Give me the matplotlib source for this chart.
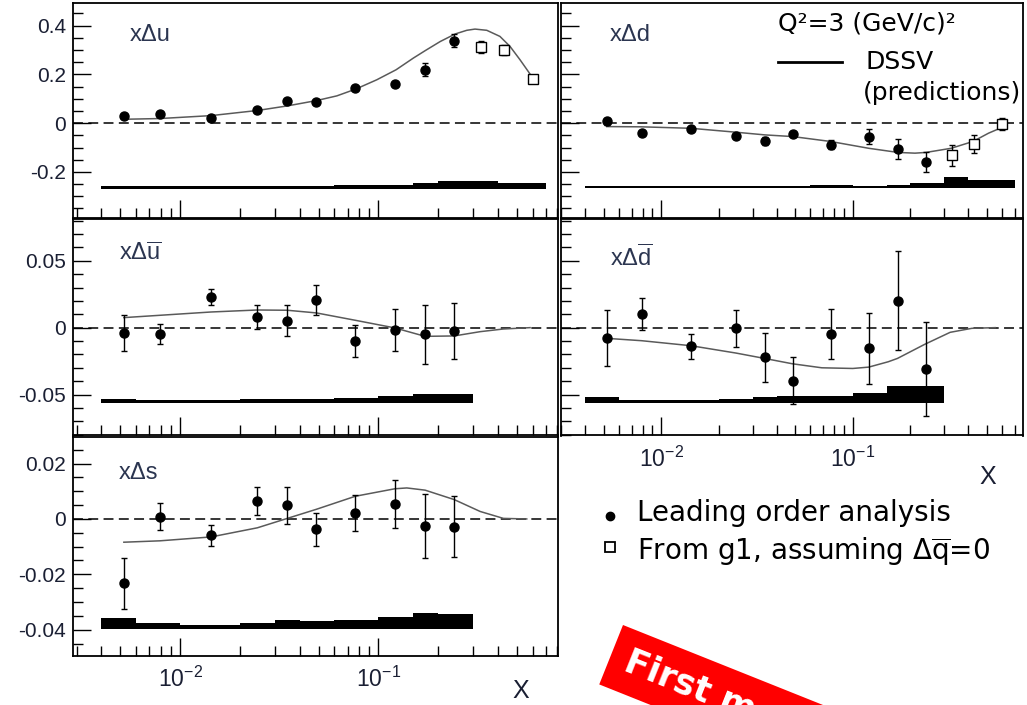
import numpy as np
import matplotlib
matplotlib.use("Agg")
import matplotlib.pyplot as plt
from matplotlib.ticker import LogLocator, NullFormatter, FixedLocator, FixedFormatter, MultipleLocator
from matplotlib.patches import Polygon

plt.rcParams['font.family'] = ['Liberation Sans', 'DejaVu Sans']
plt.rcParams['mathtext.fontset'] = 'custom'
plt.rcParams['mathtext.rm'] = 'Liberation Sans'
plt.rcParams['mathtext.it'] = 'Liberation Sans'
plt.rcParams['axes.unicode_minus'] = False

# x bins (leading order) and g1 points
x_lo = [0.0052, 0.0079, 0.0143, 0.0245, 0.0347, 0.0487, 0.0765, 0.121, 0.172, 0.241]
x_g1 = [0.33, 0.43, 0.60]
sys_edges = [0.004, 0.006, 0.01, 0.02, 0.03, 0.04, 0.06, 0.1, 0.15, 0.2, 0.3]
sys_edges_g1 = [0.004, 0.006, 0.01, 0.02, 0.03, 0.04, 0.06, 0.1, 0.15, 0.2, 0.3, 0.4, 0.5, 0.7]

# x delta u
du_val = [0.030, 0.038, 0.023, 0.053, 0.090, 0.085, 0.144, 0.160, 0.219, 0.338]
du_err = [0.005, 0.005, 0.005, 0.005, 0.006, 0.006, 0.007, 0.008, 0.026, 0.027]
du_g1_val = [0.312, 0.301, 0.181]
du_g1_err = [0.024, 0.020, 0.007]
du_sys = [0.011, 0.011, 0.011, 0.011, 0.011, 0.011, 0.015, 0.015, 0.0235, 0.030, 0.030, 0.0246, 0.0246]
du_curve_x = [0.0052, 0.0079, 0.0143, 0.0245, 0.0348, 0.0489, 0.0617, 0.0769, 0.0981, 0.1227, 0.150,
              0.1725, 0.205, 0.244, 0.279, 0.307, 0.352, 0.410, 0.461, 0.518, 0.570, 0.605]
du_curve_y = [0.016, 0.019, 0.031, 0.052, 0.071, 0.093, 0.112, 0.140, 0.178, 0.219, 0.267,
              0.298, 0.335, 0.366, 0.381, 0.386, 0.381, 0.356, 0.315, 0.260, 0.212, 0.181]

# x delta d
dd_val = [0.007, -0.041, -0.025, -0.052, -0.073, -0.045, -0.089, -0.055, -0.107, -0.160]
dd_err = [0.016, 0.006, 0.006, 0.007, 0.018, 0.008, 0.018, 0.030, 0.041, 0.042]
dd_g1_val = [-0.131, -0.085, -0.004]
dd_g1_err = [0.043, 0.037, 0.025]
dd_sys = [0.009, 0.009, 0.009, 0.009, 0.009, 0.009, 0.0137, 0.009, 0.0137, 0.0205, 0.044, 0.031, 0.031]
dd_curve_x = [0.0052, 0.0079, 0.0143, 0.0245, 0.0347, 0.0487, 0.0765, 0.121, 0.172, 0.211, 0.241,
              0.326, 0.424, 0.511, 0.598]
dd_curve_y = [-0.014, -0.015, -0.021, -0.037, -0.048, -0.055, -0.075, -0.103, -0.120, -0.123, -0.120,
              -0.103, -0.075, -0.041, -0.018]

# x delta ubar
ub_val = [-0.004, -0.0045, 0.0232, 0.008, 0.005, 0.0205, -0.0102, -0.0017, -0.005, -0.0025]
ub_err = [0.0133, 0.0075, 0.006, 0.009, 0.0116, 0.0112, 0.012, 0.0156, 0.022, 0.021]
ub_sys = [0.0035, 0.0022, 0.0022, 0.0032, 0.0032, 0.0032, 0.0042, 0.0052, 0.007, 0.007]
ub_curve_x = [0.0052, 0.0143, 0.0245, 0.0347, 0.0487, 0.0765, 0.121, 0.172, 0.241, 0.326, 0.427, 0.582]
ub_curve_y = [0.0075, 0.0117, 0.0132, 0.013, 0.011, 0.0055, -0.0002, -0.0065, -0.0062, -0.003, -0.001, 0.0]

# x delta dbar
db_val = [-0.008, 0.010, -0.0138, -0.0005, -0.0222, -0.0395, -0.0048, -0.0155, 0.020, -0.031]
db_err = [0.021, 0.0118, 0.0094, 0.014, 0.0185, 0.0176, 0.0188, 0.0266, 0.037, 0.035]
db_sys = [0.0043, 0.0025, 0.0025, 0.0033, 0.0043, 0.005, 0.005, 0.0075, 0.0125, 0.0125]
db_curve_x = [0.0052, 0.0079, 0.0143, 0.0246, 0.0346, 0.0484, 0.0689, 0.1, 0.121, 0.153, 0.171,
              0.237, 0.322, 0.418, 0.553]
db_curve_y = [-0.008, -0.00975, -0.0135, -0.019, -0.023, -0.027, -0.030, -0.0305, -0.0295, -0.0255, -0.023,
              -0.0125, -0.0035, -0.0005, 0.0]

# x delta s
s_val = [-0.0233, 0.00085, -0.0059, 0.0066, 0.0049, -0.0038, 0.0021, 0.0055, -0.0026, -0.0028]
s_err = [0.0093, 0.0048, 0.0037, 0.005, 0.0066, 0.0061, 0.0065, 0.0086, 0.0116, 0.011]
s_sys = [0.0043, 0.0023, 0.0017, 0.0024, 0.0033, 0.0029, 0.0033, 0.0045, 0.006, 0.0055]
s_curve_x = [0.0052, 0.0079, 0.0143, 0.0245, 0.0347, 0.0487, 0.0765, 0.121, 0.139, 0.172, 0.241,
             0.326, 0.427, 0.56]
s_curve_y = [-0.0084, -0.0079, -0.0065, -0.0032, 0.0002, 0.0035, 0.0082, 0.0109, 0.0112, 0.0104, 0.007,
             0.0027, 0.0002, 0.0]

W, H = 1027, 705
TICK_COLOR = '#1a1f33'
LABEL_COLOR = '#2b3550'
CURVE_COLOR = '#5a5a5a'


def rect(x0, y0, x1, y1):
    # pixel box -> figure fraction
    return [x0 / W, 1 - y1 / H, (x1 - x0) / W, (y1 - y0) / H]


def make_panel(fig, box, xlim, ylim, yticks, yticklabels, yminor, show_ylabels, show_xlabels):
    ax = fig.add_axes(rect(*box))
    ax.set_xscale('log')
    ax.set_xlim(*xlim)
    ax.set_ylim(*ylim)
    ax.xaxis.set_major_locator(LogLocator(base=10))
    ax.xaxis.set_minor_locator(LogLocator(base=10, subs=np.arange(2, 10)))
    ax.xaxis.set_minor_formatter(NullFormatter())
    ax.yaxis.set_major_locator(FixedLocator(yticks))
    ax.yaxis.set_minor_locator(MultipleLocator(yminor))
    if show_ylabels:
        ax.yaxis.set_major_formatter(FixedFormatter(yticklabels))
    else:
        ax.set_yticklabels([])
    if not show_xlabels:
        ax.set_xticklabels([])
    ax.tick_params(which='both', direction='in', top=False, right=False, colors='black')
    ax.tick_params(which='major', length=13, width=1)
    ax.tick_params(which='minor', length=7, width=1)
    ax.tick_params(axis='y', labelsize=15, pad=5, labelcolor=TICK_COLOR)
    ax.tick_params(axis='x', labelsize=16.5, pad=8, labelcolor=TICK_COLOR)
    for sp in ax.spines.values():
        sp.set_linewidth(1.3)
    ax.axhline(0, color='black', lw=1.1, ls=(0, (6.5, 3.5)), zorder=1)
    return ax


def draw_data(ax, x, val, err, curve_x, curve_y, edges, sys, sys_base, g1=None):
    edges = np.array(edges)
    ax.bar(edges[:-1], sys, width=np.diff(edges), bottom=sys_base, align='edge',
           color='black', linewidth=0, zorder=2)
    ax.plot(curve_x, curve_y, color=CURVE_COLOR, lw=1.1, zorder=3)
    ax.errorbar(x, val, yerr=err, fmt='o', color='black', ms=6.5, elinewidth=1,
                capsize=2.5, capthick=1, zorder=4)
    if g1 is not None:
        ax.errorbar(x_g1, g1[0], yerr=g1[1], fmt='s', color='black', mfc='white', mec='black',
                    ms=7, mew=1, elinewidth=1, capsize=2.5, capthick=1, zorder=4)


fig = plt.figure(figsize=(W / 100, H / 100), dpi=100)

xl_left = (0.00288, 0.805)
xl_right = (0.0030, 0.773)
yl_top = (-0.389, 0.493)
yl_mid = (-0.0806, 0.0812)
yl_bot = (-0.0495, 0.0296)
top_ticks, top_labels = [-0.2, 0, 0.2, 0.4], ['-0.2', '0', '0.2', '0.4']
mid_ticks, mid_labels = [-0.05, 0, 0.05], ['-0.05', '0', '0.05']
bot_ticks, bot_labels = [-0.04, -0.02, 0, 0.02], ['-0.04', '-0.02', '0', '0.02']

ax_u = make_panel(fig, (73, 3, 558, 218), xl_left, yl_top, top_ticks, top_labels, 0.05, True, False)
draw_data(ax_u, x_lo, du_val, du_err, du_curve_x, du_curve_y, sys_edges_g1, du_sys, -0.268,
          g1=(du_g1_val, du_g1_err))
ax_u.text(0.118, 0.85, 'xΔu', transform=ax_u.transAxes, fontsize=17, color=LABEL_COLOR, va='center')

ax_d = make_panel(fig, (561, 3, 1023, 218), xl_right, yl_top, top_ticks, top_labels, 0.05, False, False)
draw_data(ax_d, x_lo, dd_val, dd_err, dd_curve_x, dd_curve_y, sys_edges_g1, dd_sys, -0.266,
          g1=(dd_g1_val, dd_g1_err))
ax_d.text(0.106, 0.85, 'xΔd', transform=ax_d.transAxes, fontsize=17, color=LABEL_COLOR, va='center')

ax_ub = make_panel(fig, (73, 219, 558, 435.5), xl_left, yl_mid, mid_ticks, mid_labels, 0.01, True, False)
draw_data(ax_ub, x_lo, ub_val, ub_err, ub_curve_x, ub_curve_y, sys_edges, ub_sys, -0.0565)
ax_ub.text(0.095, 0.84, r'x$\Delta\overline{\mathrm{u}}$', transform=ax_ub.transAxes, fontsize=17,
           color=LABEL_COLOR, va='center')

ax_db = make_panel(fig, (561, 219, 1023, 435.5), xl_right, yl_mid, mid_ticks, mid_labels, 0.01, False, True)
draw_data(ax_db, x_lo, db_val, db_err, db_curve_x, db_curve_y, sys_edges, db_sys, -0.0563)
ax_db.text(0.106, 0.82, r'x$\Delta\overline{\mathrm{d}}$', transform=ax_db.transAxes, fontsize=17,
           color=LABEL_COLOR, va='center')
ax_db.set_xlabel('X', fontsize=18, color=TICK_COLOR)
ax_db.xaxis.set_label_coords(0.924, -0.135)

ax_s = make_panel(fig, (73, 437, 558, 656), xl_left, yl_bot, bot_ticks, bot_labels, 0.005, True, True)
draw_data(ax_s, x_lo, s_val, s_err, s_curve_x, s_curve_y, sys_edges, s_sys, -0.0399)
ax_s.text(0.095, 0.835, 'xΔs', transform=ax_s.transAxes, fontsize=17, color=LABEL_COLOR, va='center')
ax_s.set_xlabel('X', fontsize=18, color=TICK_COLOR)
ax_s.xaxis.set_label_coords(0.924, -0.105)

# overlay in pixel coordinates for legends and the banner
ov = fig.add_axes([0, 0, 1, 1], facecolor='none')
ov.set_xlim(0, W)
ov.set_ylim(H, 0)
ov.axis('off')

ov.text(778, 23, 'Q²=3 (GeV/c)²', fontsize=18, family='DejaVu Sans', va='center', ha='left')
ov.plot([778, 842], [62, 62], color='black', lw=2)
ov.text(865, 62, 'DSSV', fontsize=18, family='DejaVu Sans', va='center', ha='left')
ov.text(863, 93, '(predictions)', fontsize=18, family='DejaVu Sans', va='center', ha='left')

ov.plot([610], [516], 'o', color='black', ms=6)
ov.text(637, 513, 'Leading order analysis', fontsize=20, family='DejaVu Sans', va='center', ha='left')
ov.plot([610], [547], 's', mfc='white', mec='black', ms=7.5, mew=1.3)
ov.text(637, 552, r'From g1, assuming $\Delta\overline{\mathrm{q}}$=0', fontsize=20, family='DejaVu Sans',
        math_fontfamily='dejavusans', va='center', ha='left')

# red "First measurement" banner, cut by the lower edge as in the slide
ang = np.deg2rad(21.8)
d = np.array([np.cos(ang), np.sin(ang)])
n = np.array([-np.sin(ang), np.cos(ang)])
p0 = np.array([623.0, 625.0])
band = [p0, p0 + 600 * d, p0 + 600 * d + 64 * n, p0 + 64 * n]
ov.add_patch(Polygon(band, closed=True, facecolor='#ff0000', edgecolor='none'))
anchor = p0 + 32 * n + 16 * d
ov.text(anchor[0], anchor[1], 'First measurement', fontsize=25, family='DejaVu Sans', weight='bold',
        color='white', rotation=-21.8, rotation_mode='anchor', ha='left', va='center', clip_on=True)

fig.savefig('out.png', dpi=100)
